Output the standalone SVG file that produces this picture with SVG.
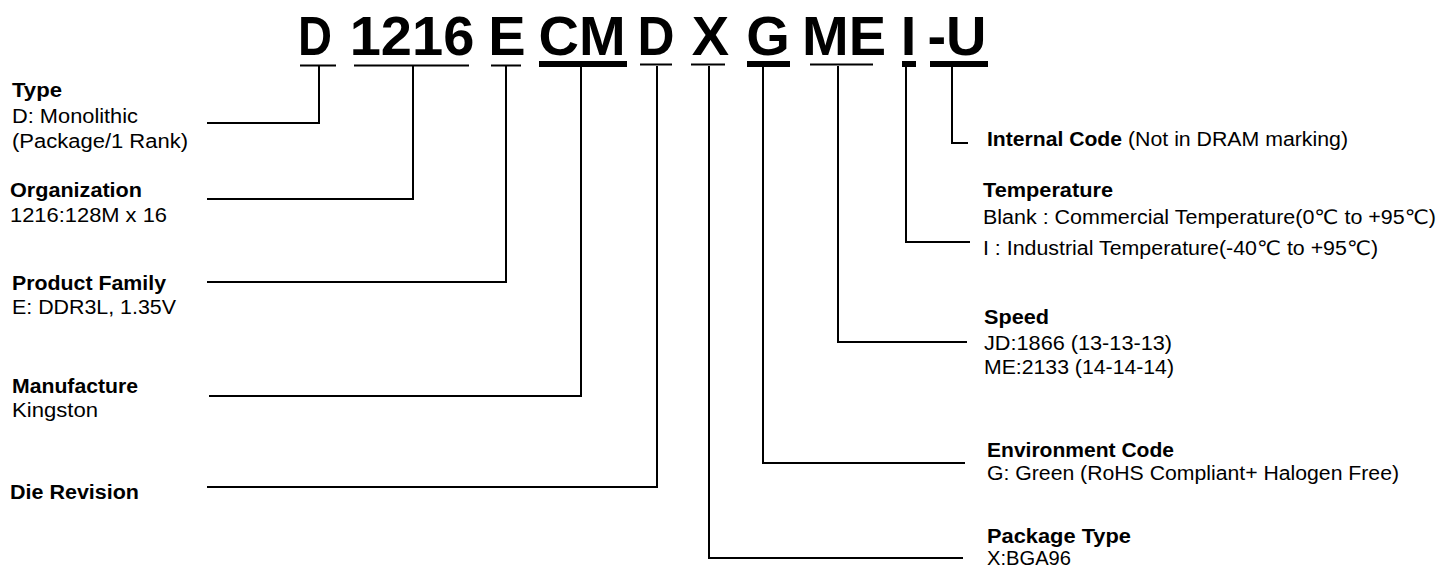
<svg xmlns="http://www.w3.org/2000/svg" width="1440" height="570" viewBox="0 0 1440 570">
<style>
.big{font-family:"Liberation Sans",Arial,sans-serif;font-weight:bold;font-size:56px;fill:#000;text-anchor:middle}
.t{font-family:"Liberation Sans",Arial,"DejaVu Sans","Noto Sans CJK SC",sans-serif;font-size:20px;fill:#000}
.b{font-weight:bold}
.ul{fill:#000}
.conn{fill:none;stroke:#000;stroke-width:2}
</style>
<rect width="1440" height="570" fill="#fff"/>
<g id="code">
  <g id="seg-D1"><text class="big" x="315" y="55" textLength="34" lengthAdjust="spacingAndGlyphs">D</text><rect class="ul" x="300" y="64.5" width="36" height="2"/></g>
  <g id="seg-1216"><text class="big" x="412" y="55">1216</text><rect class="ul" x="354" y="64.5" width="115" height="2"/></g>
  <g id="seg-E"><text class="big" x="507" y="55">E</text><rect class="ul" x="491" y="64.5" width="30" height="2"/></g>
  <g id="seg-CM"><text class="big" x="582" y="55">CM</text><rect class="ul" x="539" y="61" width="88" height="6"/></g>
  <g id="seg-D2"><text class="big" x="656" y="55" textLength="37" lengthAdjust="spacingAndGlyphs">D</text><rect class="ul" x="640" y="63.5" width="32" height="2"/></g>
  <g id="seg-X"><text class="big" x="710.5" y="55">X</text><rect class="ul" x="691" y="63.5" width="34" height="2"/></g>
  <g id="seg-G"><text class="big" x="768" y="55">G</text><rect class="ul" x="747" y="61" width="43" height="6"/></g>
  <g id="seg-ME"><text class="big" x="844" y="55">ME</text><rect class="ul" x="810" y="63.5" width="63" height="2"/></g>
  <g id="seg-I"><text class="big" x="908.5" y="55">I</text><rect class="ul" x="902" y="61" width="14" height="6"/></g>
  <g id="seg-U"><text class="big" x="957" y="55">-U</text><rect class="ul" x="930" y="61" width="58" height="6"/></g>
</g>
<g id="connectors">
  <path class="conn" d="M319,66 V123 H207"/>
  <path class="conn" d="M413,66 V199 H207"/>
  <path class="conn" d="M506,66 V282 H207"/>
  <path class="conn" d="M581,66 V396 H209"/>
  <path class="conn" d="M657,66 V487 H207"/>
  <path class="conn" d="M709,66 V558 H963"/>
  <path class="conn" d="M763,66 V463 H965"/>
  <path class="conn" d="M838,66 V342 H967"/>
  <path class="conn" d="M906,66 V242 H970"/>
  <path class="conn" d="M952,66 V143 H968"/>
</g>
<g id="label-type">
  <text class="t b" x="12" y="97" textLength="50" lengthAdjust="spacingAndGlyphs">Type</text>
  <text class="t" x="12" y="123" textLength="126" lengthAdjust="spacingAndGlyphs">D: Monolithic</text>
  <text class="t" x="12" y="148" textLength="176" lengthAdjust="spacingAndGlyphs">(Package/1 Rank)</text>
</g>
<g id="label-organization">
  <text class="t b" x="10" y="197" textLength="132" lengthAdjust="spacingAndGlyphs">Organization</text>
  <text class="t" x="10" y="222" textLength="157" lengthAdjust="spacingAndGlyphs">1216:128M x 16</text>
</g>
<g id="label-family">
  <text class="t b" x="12" y="290" textLength="154" lengthAdjust="spacingAndGlyphs">Product Family</text>
  <text class="t" x="12" y="314" textLength="164" lengthAdjust="spacingAndGlyphs">E: DDR3L, 1.35V</text>
</g>
<g id="label-manufacture">
  <text class="t b" x="12" y="393" textLength="126" lengthAdjust="spacingAndGlyphs">Manufacture</text>
  <text class="t" x="12" y="417" textLength="86" lengthAdjust="spacingAndGlyphs">Kingston</text>
</g>
<g id="label-die">
  <text class="t b" x="10" y="499" textLength="129" lengthAdjust="spacingAndGlyphs">Die Revision</text>
</g>
<g id="label-internal">
  <text class="t b" x="987" y="146" textLength="135" lengthAdjust="spacingAndGlyphs">Internal Code</text>
  <text class="t" x="1128" y="146" textLength="220" lengthAdjust="spacingAndGlyphs">(Not in DRAM marking)</text>
</g>
<g id="label-temperature">
  <text class="t b" x="983" y="197" textLength="130" lengthAdjust="spacingAndGlyphs">Temperature</text>
  <text class="t" x="983" y="224" textLength="453" lengthAdjust="spacingAndGlyphs">Blank : Commercial Temperature(0℃ to +95℃)</text>
  <text class="t" x="983" y="255" textLength="395" lengthAdjust="spacingAndGlyphs">I : Industrial Temperature(-40℃ to +95℃)</text>
</g>
<g id="label-speed">
  <text class="t b" x="984" y="324" textLength="65" lengthAdjust="spacingAndGlyphs">Speed</text>
  <text class="t" x="984" y="350" textLength="188" lengthAdjust="spacingAndGlyphs">JD:1866 (13-13-13)</text>
  <text class="t" x="984" y="374" textLength="190" lengthAdjust="spacingAndGlyphs">ME:2133 (14-14-14)</text>
</g>
<g id="label-environment">
  <text class="t b" x="987" y="457" textLength="187" lengthAdjust="spacingAndGlyphs">Environment Code</text>
  <text class="t" x="987" y="480" textLength="412" lengthAdjust="spacingAndGlyphs">G: Green (RoHS Compliant+ Halogen Free)</text>
</g>
<g id="label-package">
  <text class="t b" x="987" y="543" textLength="144" lengthAdjust="spacingAndGlyphs">Package Type</text>
  <text class="t" x="987" y="565" textLength="84" lengthAdjust="spacingAndGlyphs">X:BGA96</text>
</g>
</svg>
